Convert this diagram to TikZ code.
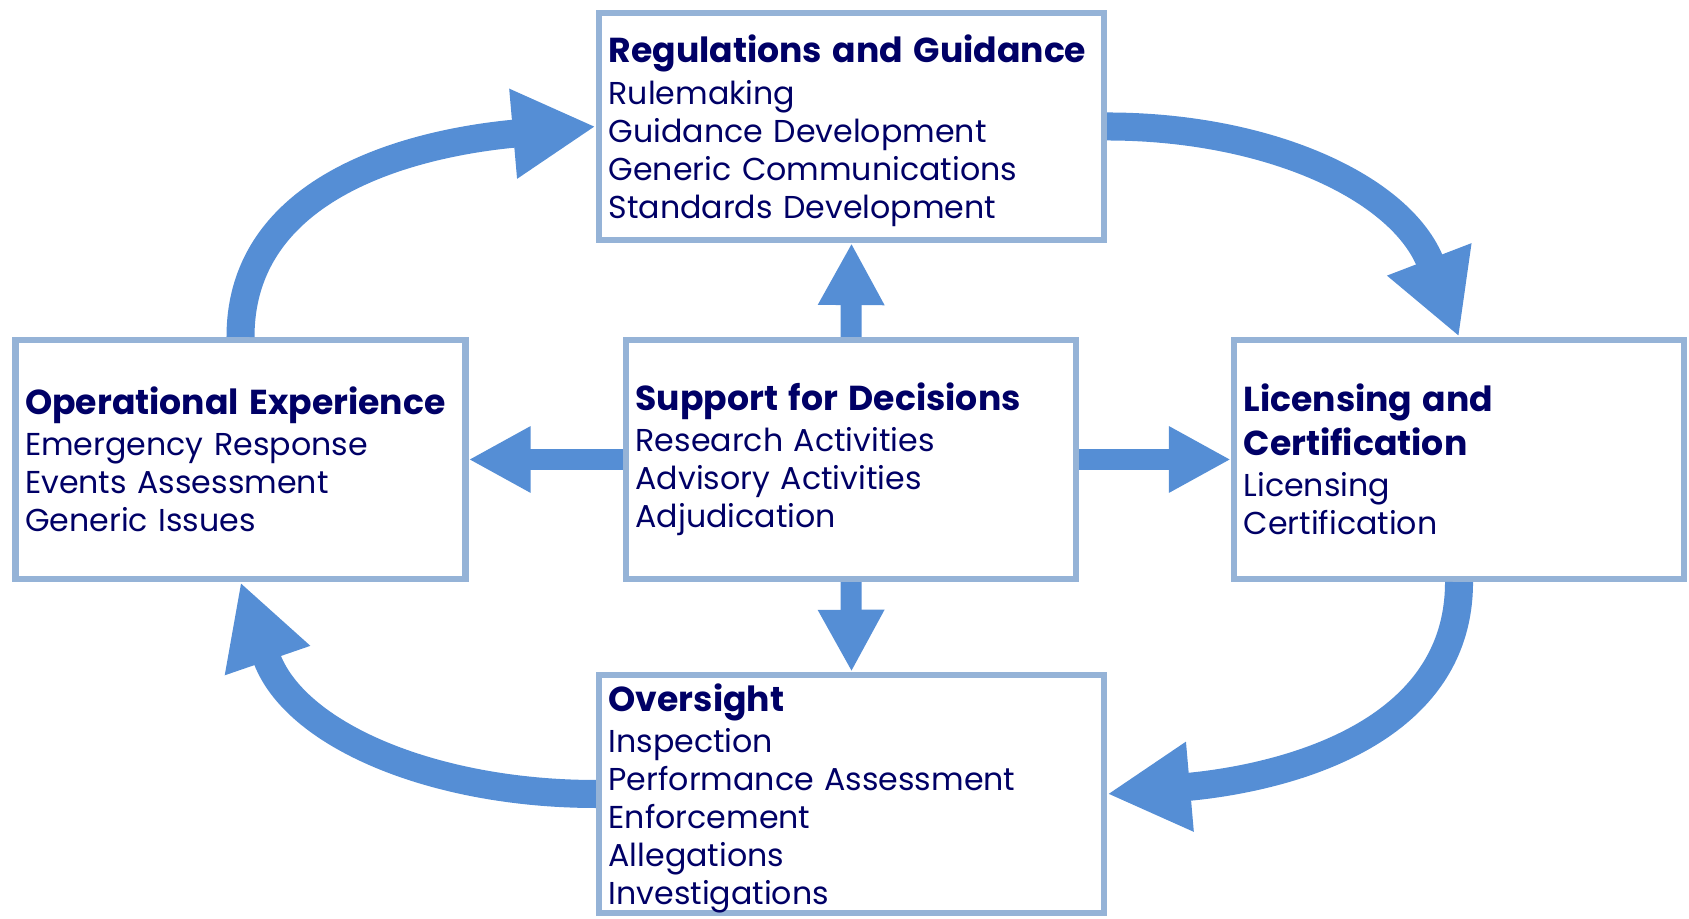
\documentclass[tikz,border=0pt]{standalone}
\usepackage{fontspec}
\setmainfont{Poppins}
\usetikzlibrary{arrows.meta}
\definecolor{boxline}{HTML}{95B3D7}
\definecolor{arrowblue}{HTML}{558ED5}
\definecolor{navy}{RGB}{0,0,102}
\newcommand{\ttl}[1]{\mbox{\fontsize{9.85}{12.5}\selectfont\bfseries #1}}
\newcommand{\toppad}{\rule{0pt}{10.3pt}}
\tikzset{
    box/.style={draw=boxline, line width=0.065cm, fill=white, inner xsep=0.095cm, inner ysep=0pt, align=left, text=navy, font=\fontsize{9}{10.8}\selectfont},
    widebox/.style={box, minimum width=5.045cm, text width=4.855cm},
    narrowbox/.style={box, minimum width=4.495cm, text width=4.305cm},
    flow/.style={draw=arrowblue, line width=0.28cm, -{Triangle[length=0.83cm, width=0.84cm]}},
    link/.style={draw=arrowblue, line width=0.21cm, -{Triangle[length=0.62cm, width=0.62cm]}}
}
\begin{document}
\begin{tikzpicture}[x=0.01cm, y=0.01cm]
    \useasboundingbox (0,0) rectangle (1689,919);
    \node[widebox, minimum height=2.265cm] (reg) at (851.5,792.5) {\toppad\ttl{Regulations and Guidance}\\[0.9pt] Rulemaking\\ Guidance Development\\ Generic Communications\\ Standards Development};
    \node[narrowbox, minimum height=2.385cm] (ops) at (240.5,459.5) {\ttl{Operational Experience}\\[0.9pt] Emergency Response\\ Events Assessment\\ Generic Issues};
    \node[narrowbox, minimum height=2.385cm] (sup) at (851,459.5) {\ttl{Support for Decisions}\\[0.9pt] Research Activities\\ Advisory Activities\\ Adjudication};
    \node[narrowbox, minimum height=2.385cm] (lic) at (1459,459.5) {\ttl{Licensing and}\\[1.7pt] \ttl{Certification}\\[0.9pt] Licensing\\ Certification};
    \node[widebox, minimum height=2.375cm] (ovs) at (851.5,125) {\toppad\ttl{Oversight}\\[0.9pt] Inspection\\ Performance Assessment\\ Enforcement\\ Allegations\\ Investigations};
    \draw[flow] (reg.east) to[out=0, in=111] (lic.north);
    \draw[flow] (lic.south) to[out=-90, in=5] (ovs.east);
    \draw[flow] (ovs.west) to[out=180, in=-71] (ops.south);
    \draw[flow] (ops.north) to[out=90, in=185] (reg.west);
    \draw[link] (sup.north) -- (reg.south);
    \draw[link] (sup.west) -- (ops.east);
    \draw[link] (sup.east) -- (lic.west);
    \draw[link] (sup.south) -- (ovs.north);
\end{tikzpicture}
\end{document}
